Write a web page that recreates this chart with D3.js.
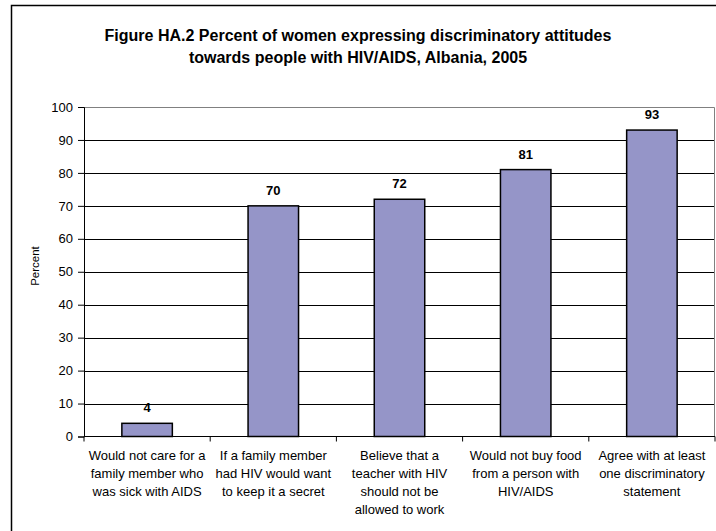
<!DOCTYPE html>
<html>
<head>
<meta charset="utf-8">
<script src="https://cdn.jsdelivr.net/npm/d3@7"></script>
<style>
  body { margin: 0; background: #fff; }
  text { font-family: "Liberation Sans", Arial, sans-serif; fill: #000; }
</style>
</head>
<body>
<div id="chart"></div>
<script>
// chart data
let categories = [
    ["Would not care for a", "family member who", "was sick with AIDS"],
    ["If a family member", "had HIV would want", "to keep it a secret"],
    ["Believe that a", "teacher with HIV", "should not be", "allowed to work"],
    ["Would not buy food", "from a person with", "HIV/AIDS"],
    ["Agree with at least", "one discriminatory", "statement"]
];
let values = [4, 70, 72, 81, 93];
let yTicks = [0, 10, 20, 30, 40, 50, 60, 70, 80, 90, 100];
let titleLines = [
    "Figure HA.2 Percent of women expressing discriminatory attitudes",
    "towards people with HIV/AIDS, Albania, 2005"
];

let width = 716, height = 531;
let plot = { left: 84, right: 715, top: 107, bottom: 436.5 };

let svg = d3.select("#chart")
    .append("svg")
    .attr("width", width)
    .attr("height", height);

// outer frame
svg.append("rect")
    .attr("x", 11.5)
    .attr("y", 5.5)
    .attr("width", 720)
    .attr("height", 540)
    .attr("fill", "none")
    .attr("stroke", "#000")
    .attr("stroke-width", 1.5);

// title
svg.append("text")
    .attr("x", 358)
    .attr("y", 41)
    .style("text-anchor", "middle")
    .style("font-weight", "bold")
    .style("font-size", "16px")
    .selectAll("tspan")
    .data(titleLines)
    .enter()
    .append("tspan")
    .attr("x", 358)
    .attr("dy", (d, i) => i === 0 ? 0 : 22)
    .text(d => d);

let x = d3.scaleBand()
    .domain(d3.range(categories.length))
    .range([plot.left, plot.right])
    .padding(0);

let y = d3.scaleLinear()
    .domain([0, 100])
    .range([plot.bottom, plot.top]);

// gridlines
svg.append("g")
    .selectAll("line")
    .data(yTicks.filter(d => d > 0 && d < 100))
    .enter()
    .append("line")
    .attr("x1", plot.left)
    .attr("x2", plot.right)
    .attr("y1", d => Math.round(y(d)) + 0.5)
    .attr("y2", d => Math.round(y(d)) + 0.5)
    .attr("stroke", "#000")
    .attr("stroke-width", 1);

// plot area border (top/right)
svg.append("path")
    .attr("d", `M${plot.left},${Math.round(plot.top) + 0.5}H${plot.right - 0.5}V${plot.bottom}`)
    .attr("fill", "none")
    .attr("stroke", "#808080")
    .attr("stroke-width", 1);

// bars
let barW = x.bandwidth() * 0.4;
svg.append("g")
    .selectAll("rect")
    .data(values)
    .enter()
    .append("rect")
    .attr("x", (d, i) => x(i) + (x.bandwidth() - barW) / 2)
    .attr("y", d => y(d))
    .attr("width", barW)
    .attr("height", d => y(0) - y(d))
    .attr("fill", "#9595c8")
    .attr("stroke", "#000")
    .attr("stroke-width", 1.5);

// value labels
svg.append("g")
    .selectAll("text")
    .data(values)
    .enter()
    .append("text")
    .attr("x", (d, i) => x(i) + x.bandwidth() / 2)
    .attr("y", d => y(d) - 11)
    .style("text-anchor", "middle")
    .style("font-weight", "bold")
    .style("font-size", "13px")
    .text(d => d);

// y axis
let yAxis = svg.append("g")
    .attr("transform", `translate(${plot.left},0)`)
    .call(d3.axisLeft(y).tickValues(yTicks).tickSize(6).tickPadding(5));
yAxis.select(".domain").attr("stroke", "#000");
yAxis.selectAll(".tick line").attr("stroke", "#000");
yAxis.selectAll(".tick text")
    .style("font-size", "13px")
    .style("font-family", "Liberation Sans, Arial, sans-serif");

// x axis
let xAxisG = svg.append("g")
    .attr("transform", `translate(0,${plot.bottom})`);
xAxisG.append("line")
    .attr("x1", plot.left)
    .attr("x2", plot.right)
    .attr("stroke", "#000");
xAxisG.selectAll(".tk")
    .data(d3.range(categories.length + 1))
    .enter()
    .append("line")
    .attr("x1", i => i < categories.length ? x(i) : plot.right)
    .attr("x2", i => i < categories.length ? x(i) : plot.right)
    .attr("y1", 0)
    .attr("y2", 5)
    .attr("stroke", "#000");

// category labels
xAxisG.selectAll(".lab")
    .data(categories)
    .enter()
    .append("text")
    .attr("y", 23.5)
    .style("text-anchor", "middle")
    .style("font-size", "13px")
    .each(function(lines, i) {
        d3.select(this).selectAll("tspan")
            .data(lines)
            .enter()
            .append("tspan")
            .attr("x", x(i) + x.bandwidth() / 2)
            .attr("dy", (d, j) => j === 0 ? 0 : 18)
            .text(d => d);
    });

// y axis title
svg.append("text")
    .attr("transform", "translate(39,266) rotate(-90)")
    .style("text-anchor", "middle")
    .style("font-size", "11.5px")
    .text("Percent");
</script>
</body>
</html>
